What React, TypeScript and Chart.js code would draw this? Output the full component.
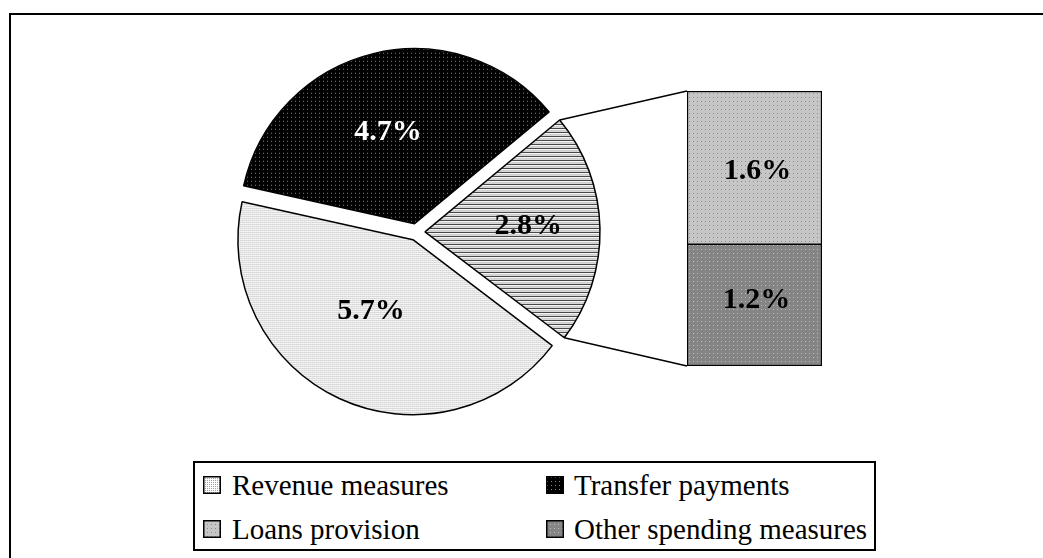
import React, { useEffect, useRef } from "react";
import { Chart, registerables } from "chart.js";

Chart.register(...registerables);

// ---- data ----
const pieLabels = ["Other spending (total)", "Revenue measures", "Transfer payments"];
const pieValues = [2.8, 5.65, 4.65];
const barLabels = ["Other spending measures", "Loans provision"]; // bottom to top
const barValues = [1.24, 1.56];
const legendLabels = ["Revenue measures", "Transfer payments", "Loans provision", "Other spending measures"];
const legendKeys = ["revenue", "transfer", "loans", "otherSpending"];

// ---- layout / style constants ----
const W = 1043;
const H = 558;
const PIE_RADIUS = 175;
const PIE_ROTATION = 50.3;
const EXPLODE = 8.5;
const PIE_PAD = { left: 233, right: 443, top: 40, bottom: 134 };
const LABEL_R = [0.55, 0.46, 0.55];
const LABEL_NUDGE = [
  [7, -4],
  [-8, -1],
  [-4, 2],
];
const BAR_LABEL_NUDGE = [
  [2, -5],
  [3, 4],
];
const LABEL_COLORS = ["#000", "#000", "#fff"];
const BAR_BOX = { left: 685, top: 89, width: 139, height: 279 };
const SERIF = '"Liberation Serif", "Times New Roman", "DejaVu Serif", serif';
const LABEL_FONT = `bold 30px ${SERIF}`;
const fmt = (v: number) => v.toFixed(1) + "%";

function tile(w: number, h: number, draw: (c: CanvasRenderingContext2D) => void) {
  const cv = document.createElement("canvas");
  cv.width = w;
  cv.height = h;
  const c = cv.getContext("2d")!;
  draw(c);
  return c.createPattern(cv, "repeat")!;
}

function px(c: CanvasRenderingContext2D, x: number, y: number, col: string) {
  c.fillStyle = col;
  c.fillRect(x, y, 1, 1);
}

function makePatterns(): Record<string, CanvasPattern> {
  return {
    revenue: tile(2, 2, (c) => {
      c.fillStyle = "#ffffff";
      c.fillRect(0, 0, 2, 2);
      px(c, 0, 0, "#a0a0a0");
    }),
    transfer: tile(4, 4, (c) => {
      c.fillStyle = "#000000";
      c.fillRect(0, 0, 4, 4);
      px(c, 1, 1, "#8a8a8a");
    }),
    otherPie: tile(1, 4, (c) => {
      c.fillStyle = "#ffffff";
      c.fillRect(0, 0, 1, 4);
      px(c, 0, 0, "#202020");
      px(c, 0, 2, "#c4c4c4");
    }),
    loans: tile(4, 4, (c) => {
      c.fillStyle = "#c6c6c6";
      c.fillRect(0, 0, 4, 4);
      px(c, 0, 0, "#8c8c8c");
    }),
    otherSpending: tile(4, 4, (c) => {
      c.fillStyle = "#858585";
      c.fillRect(0, 0, 4, 4);
      px(c, 0, 0, "#bcbcbc");
    }),
  };
}

export default function App() {
  const pieRef = useRef<HTMLCanvasElement>(null);
  const barRef = useRef<HTMLCanvasElement>(null);
  const iconRefs = useRef<(HTMLCanvasElement | null)[]>([]);

  useEffect(() => {
    const pats = makePatterns();

    // legend icons
    iconRefs.current.forEach((cv, i) => {
      if (!cv) return;
      const c = cv.getContext("2d")!;
      c.clearRect(0, 0, cv.width, cv.height);
      c.fillStyle = pats[legendKeys[i]];
      c.fillRect(1, 1, cv.width - 2, cv.height - 2);
      c.strokeStyle = "#000";
      c.lineWidth = 1.5;
      c.strokeRect(0.75, 0.75, cv.width - 1.5, cv.height - 1.5);
    });

    const barTotal = barValues.reduce((a, b) => a + b, 0);

    const barLabelPlugin = {
      id: "barLabels",
      afterDatasetsDraw(chart: any) {
        const ctx = chart.ctx;
        ctx.save();
        ctx.font = LABEL_FONT;
        ctx.fillStyle = "#000";
        ctx.textAlign = "center";
        ctx.textBaseline = "middle";
        chart.data.datasets.forEach((ds: any, i: number) => {
          const el = chart.getDatasetMeta(i).data[0];
          ctx.fillText(
            fmt(ds.data[0]),
            el.x + BAR_LABEL_NUDGE[i][0],
            (el.y + el.base) / 2 + BAR_LABEL_NUDGE[i][1]
          );
        });
        ctx.restore();
      },
    };

    const bar = new Chart(barRef.current!, {
      type: "bar",
      data: {
        labels: [""],
        datasets: barValues.map((v, i) => ({
          label: barLabels[i],
          data: [v],
          backgroundColor: i === 0 ? pats.otherSpending : pats.loans,
          borderColor: "#000",
          borderWidth:
            i === 0
              ? { left: 1.5, right: 1.5, bottom: 1.5, top: 1 }
              : { left: 1.5, right: 1.5, bottom: 1, top: 1.5 },
          borderSkipped: false,
          barPercentage: 1,
          categoryPercentage: 1,
        })),
      },
      options: {
        animation: false,
        responsive: false,
        events: [],
        layout: { padding: 2 },
        plugins: { legend: { display: false }, tooltip: { enabled: false } },
        scales: {
          x: { display: false, stacked: true },
          y: { display: false, stacked: true, min: 0, max: barTotal },
        },
      },
      plugins: [barLabelPlugin],
    } as any);

    const piePlugin = {
      id: "pieOfBar",
      beforeDatasetDraw(chart: any, args: any) {
        const ctx = chart.ctx;
        args.meta.data.forEach((arc: any) => {
          const mid = (arc.startAngle + arc.endAngle) / 2;
          ctx.save();
          ctx.translate(Math.cos(mid) * EXPLODE, Math.sin(mid) * EXPLODE);
          arc.draw(ctx);
          ctx.restore();
        });
        return false;
      },
      afterDatasetsDraw(chart: any) {
        const ctx = chart.ctx;
        const arcs = chart.getDatasetMeta(0).data;
        // connector lines from the exploded "other" slice to the bar
        const o = arcs[0];
        const om = (o.startAngle + o.endAngle) / 2;
        const ox = o.x + Math.cos(om) * EXPLODE;
        const oy = o.y + Math.sin(om) * EXPLODE;
        const top = bar.getDatasetMeta(barValues.length - 1).data[0] as any;
        const bottom = bar.getDatasetMeta(0).data[0] as any;
        const barLeft = BAR_BOX.left + top.x - top.width / 2;
        const barTop = BAR_BOX.top + top.y;
        const barBottom = BAR_BOX.top + bottom.base;
        ctx.save();
        ctx.strokeStyle = "#000";
        ctx.lineWidth = 1.5;
        ctx.beginPath();
        ctx.moveTo(ox + Math.cos(o.startAngle) * o.outerRadius, oy + Math.sin(o.startAngle) * o.outerRadius);
        ctx.lineTo(barLeft, barTop);
        ctx.moveTo(ox + Math.cos(o.endAngle) * o.outerRadius, oy + Math.sin(o.endAngle) * o.outerRadius);
        ctx.lineTo(barLeft, barBottom);
        ctx.stroke();

        // value labels
        ctx.font = LABEL_FONT;
        ctx.textAlign = "center";
        ctx.textBaseline = "middle";
        arcs.forEach((arc: any, i: number) => {
          const mid = (arc.startAngle + arc.endAngle) / 2;
          const r = EXPLODE + arc.outerRadius * LABEL_R[i];
          ctx.fillStyle = LABEL_COLORS[i];
          ctx.fillText(
            fmt(pieValues[i]),
            arc.x + Math.cos(mid) * r + LABEL_NUDGE[i][0],
            arc.y + Math.sin(mid) * r + LABEL_NUDGE[i][1]
          );
        });
        ctx.restore();
      },
    };

    const pie = new Chart(pieRef.current!, {
      type: "pie",
      data: {
        labels: pieLabels,
        datasets: [
          {
            data: pieValues,
            backgroundColor: [pats.otherPie, pats.revenue, pats.transfer],
            borderColor: "#000",
            borderWidth: 1.5,
          },
        ],
      },
      options: {
        animation: false,
        responsive: false,
        events: [],
        rotation: PIE_ROTATION,
        radius: PIE_RADIUS,
        layout: { padding: PIE_PAD },
        plugins: { legend: { display: false }, tooltip: { enabled: false } },
      },
      plugins: [piePlugin],
    } as any);

    return () => {
      pie.destroy();
      bar.destroy();
    };
  }, []);

  const legendPos = [
    { icon: 203, text: 232, cy: 484.5 },
    { icon: 545.5, text: 574, cy: 484.5 },
    { icon: 203, text: 232, cy: 528.5 },
    { icon: 545.5, text: 574, cy: 528.5 },
  ];

  return (
    <div
      style={{
        position: "absolute",
        left: 0,
        top: 0,
        width: W,
        height: H,
        overflow: "hidden",
        background: "#fff",
      }}
    >
      <div
        style={{
          position: "absolute",
          left: 9,
          top: 13,
          width: W + 20,
          height: H + 20,
          border: "2px solid #000",
        }}
      />
      <canvas
        ref={pieRef}
        width={W}
        height={H}
        style={{ position: "absolute", left: 0, top: 0, width: W, height: H }}
      />
      <canvas
        ref={barRef}
        width={BAR_BOX.width}
        height={BAR_BOX.height}
        style={{
          position: "absolute",
          left: BAR_BOX.left,
          top: BAR_BOX.top,
          width: BAR_BOX.width,
          height: BAR_BOX.height,
        }}
      />
      <div
        style={{
          position: "absolute",
          left: 193,
          top: 461,
          width: 683,
          height: 90,
          boxSizing: "border-box",
          border: "2px solid #000",
          background: "#fff",
        }}
      />
      {legendLabels.map((lab, i) => (
        <React.Fragment key={lab}>
          <canvas
            ref={(el) => {
              iconRefs.current[i] = el;
            }}
            width={18}
            height={18}
            style={{
              position: "absolute",
              left: legendPos[i].icon,
              top: legendPos[i].cy - 9,
              width: 18,
              height: 18,
            }}
          />
          <div
            style={{
              position: "absolute",
              left: legendPos[i].text,
              top: legendPos[i].cy - 18,
              height: 36,
              lineHeight: "36px",
              whiteSpace: "nowrap",
              color: "#000",
              fontSize: 29,
              fontFamily: SERIF,
            }}
          >
            {lab}
          </div>
        </React.Fragment>
      ))}
    </div>
  );
}
